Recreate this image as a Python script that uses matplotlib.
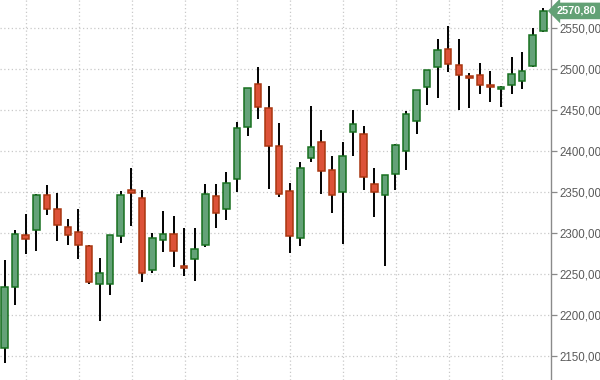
import numpy as np
import matplotlib
matplotlib.use('Agg')
import matplotlib.pyplot as plt
from matplotlib.ticker import FixedLocator, FuncFormatter

# daily candles, oldest first
opens = [2159.8, 2233.8, 2297.2, 2303.3, 2346.0, 2328.9, 2307.0, 2300.9, 2283.8, 2237.4,
         2237.4, 2296.0, 2352.1, 2342.3, 2254.5, 2291.1, 2298.4, 2259.8, 2267.9, 2285.0,
         2344.8, 2328.9, 2365.5, 2428.9, 2481.7, 2452.1, 2405.7, 2350.9, 2293.5, 2391.1,
         2410.6, 2376.5, 2349.6, 2422.8, 2420.4, 2359.4, 2346.0, 2371.6, 2399.6, 2436.2,
         2477.7, 2502.1, 2524.0, 2504.5, 2491.1, 2492.3, 2480.1, 2476.0, 2480.1, 2485.0,
         2503.3, 2546.0]
highs = [2267.1, 2303.7, 2323.2, 2347.6, 2358.5, 2349.1, 2317.1, 2329.3, 2285.4, 2269.9,
         2297.6, 2351.2, 2379.6, 2352.4, 2299.6, 2326.8, 2320.7, 2306.1, 2306.1, 2359.8,
         2359.8, 2374.4, 2435.4, 2476.8, 2502.8, 2479.3, 2433.8, 2360.6, 2386.2, 2454.9,
         2425.2, 2393.5, 2410.6, 2449.6, 2430.1, 2378.9, 2371.0, 2408.0, 2448.4, 2474.4,
         2498.8, 2536.2, 2552.4, 2536.2, 2494.8, 2507.3, 2497.2, 2478.9, 2514.3, 2520.4,
         2549.6, 2574.0]
lows = [2141.8, 2212.2, 2274.4, 2278.4, 2322.3, 2290.6, 2285.4, 2268.7, 2237.4, 2193.0,
        2224.8, 2288.2, 2308.5, 2240.6, 2251.6, 2277.2, 2258.9, 2247.9, 2241.8, 2283.3,
        2306.5, 2315.9, 2350.4, 2418.7, 2438.7, 2353.3, 2343.9, 2276.0, 2284.5, 2386.2,
        2347.9, 2324.8, 2286.2, 2393.5, 2353.0, 2319.1, 2259.4, 2352.1, 2376.5, 2420.4,
        2455.5, 2465.0, 2496.0, 2449.6, 2452.1, 2469.1, 2459.4, 2453.3, 2469.1, 2475.2,
        2502.1, 2544.8]
closes = [2234.5, 2298.4, 2292.3, 2346.0, 2329.6, 2309.4, 2297.9, 2285.0, 2239.9, 2250.9,
          2297.2, 2346.0, 2348.4, 2250.9, 2293.5, 2298.4, 2277.7, 2257.7, 2280.1, 2347.2,
          2324.0, 2360.6, 2427.7, 2476.5, 2453.3, 2405.7, 2347.2, 2296.3, 2378.9, 2404.5,
          2375.2, 2346.0, 2393.5, 2432.6, 2367.7, 2349.6, 2370.4, 2407.0, 2444.8, 2474.0,
          2498.4, 2522.8, 2505.7, 2492.3, 2489.4, 2480.1, 2478.4, 2477.7, 2493.5, 2497.2,
          2541.1, 2570.8]
y_ticks = [2150, 2200, 2250, 2300, 2350, 2400, 2450, 2500, 2550]
last_price = 2570.80

UP_FILL, UP_EDGE = '#64a278', '#17701f'
DN_FILL, DN_EDGE = '#dc5238', '#a8360f'

o = np.array(opens)
h = np.array(highs)
l = np.array(lows)
c = np.array(closes)
x = np.arange(len(o))
up = c >= o

fig = plt.figure(figsize=(6, 3.8), dpi=100)
ax = fig.add_axes([0, 0, 551/600, 1])

# grid (weekly verticals)
for gx in np.arange(2, len(x), 5):
    ax.axvline(gx + 0.05, color='#c9c9c9', lw=0.9, ls=(0, (1, 2)), zorder=1)
for gy in y_ticks:
    ax.axhline(gy, color='#c9c9c9', lw=0.9, ls=(0, (1, 2)), zorder=1)

# wicks then bodies
ax.vlines(x, l, h, color='black', lw=1.4, zorder=2)
ax.bar(x[up], (c - o)[up], bottom=o[up], width=0.62,
       color=UP_FILL, edgecolor=UP_EDGE, linewidth=1.1, zorder=3)
ax.bar(x[~up], (o - c)[~up], bottom=c[~up], width=0.62,
       color=DN_FILL, edgecolor=DN_EDGE, linewidth=1.1, zorder=3)

ax.set_xlim(-0.43, len(x) - 1 + 0.73)
ax.set_ylim(2120.7, 2584.1)

for side in ['top', 'left', 'bottom']:
    ax.spines[side].set_visible(False)
ax.spines['right'].set_color('#8a8a8a')
ax.spines['right'].set_linewidth(1.0)
ax.xaxis.set_visible(False)
ax.yaxis.tick_right()
ax.yaxis.set_major_locator(FixedLocator(y_ticks))
ax.yaxis.set_major_formatter(FuncFormatter(lambda v, p: f'{v:.2f}'.replace('.', ',')))
ax.tick_params(axis='y', direction='out', length=4, width=0.9, color='#8a8a8a',
               labelsize=8.3, labelcolor='#5a5a5a', pad=2)
for lab in ax.get_yticklabels():
    lab.set_fontfamily('Liberation Sans')

# last price tag
ax.annotate(f'{last_price:.2f}'.replace('.', ','), xy=(1.0, last_price),
            xycoords=('axes fraction', 'data'), xytext=(4.3, 0), textcoords='offset points',
            ha='left', va='center', fontsize=7.9, fontweight='bold', color='white',
            family='Liberation Sans', annotation_clip=False,
            bbox=dict(boxstyle='larrow,pad=0.3', fc='#62a175', ec='none'))

fig.savefig('out.png', dpi=100)
